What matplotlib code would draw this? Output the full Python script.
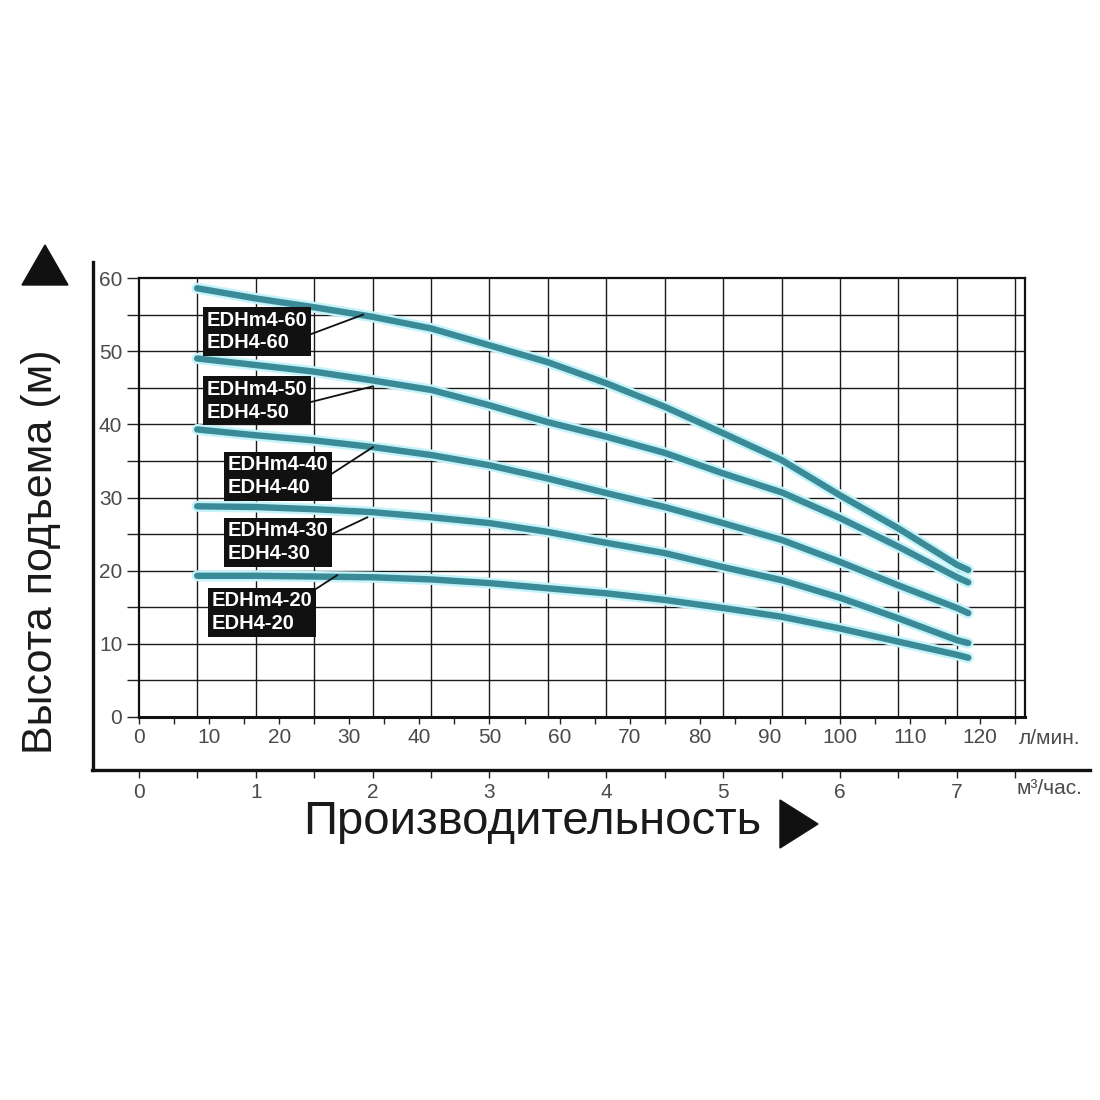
import numpy as np
import matplotlib
matplotlib.use('Agg')
from matplotlib import pyplot as plt
from matplotlib.lines import Line2D
from matplotlib.patches import Polygon

plt.rcParams['font.family'] = ['Liberation Sans', 'DejaVu Sans']

# flow, l/min
flow = [8.3, 16.7, 25, 33.3, 41.7, 50, 58.3, 66.7, 75, 83.3, 91.7, 100, 108.3, 116.7, 118.3]

# head, m
head_60 = [58.6, 57.2, 56.0, 54.7, 53.1, 50.8, 48.5, 45.6, 42.4, 38.8, 35.1, 30.3, 25.8, 20.8, 20.1]
head_50 = [49.0, 48.1, 47.2, 46.0, 44.7, 42.6, 40.3, 38.3, 36.1, 33.3, 30.7, 27.2, 23.3, 19.1, 18.4]
head_40 = [39.3, 38.5, 37.8, 36.9, 35.8, 34.4, 32.6, 30.6, 28.7, 26.5, 24.2, 21.2, 18.0, 14.9, 14.2]
head_30 = [28.8, 28.7, 28.4, 28.0, 27.3, 26.5, 25.3, 23.8, 22.4, 20.5, 18.7, 16.3, 13.5, 10.5, 10.1]
head_20 = [19.3, 19.3, 19.2, 19.1, 18.8, 18.3, 17.6, 16.9, 16.0, 14.9, 13.7, 12.1, 10.3, 8.5, 8.1]

labels = ['EDHm4-60\nEDH4-60', 'EDHm4-50\nEDH4-50', 'EDHm4-40\nEDH4-40',
          'EDHm4-30\nEDH4-30', 'EDHm4-20\nEDH4-20']
curves = [head_60, head_50, head_40, head_30, head_20]

# where the leader lines touch the curves, and where the boxes sit
leader_xy = [(32.0, 55.0), (33.4, 45.2), (33.4, 36.9), (32.6, 27.3), (28.3, 19.4)]
label_xy = [(9.6, 52.7), (9.6, 43.2), (12.6, 32.9), (12.6, 23.9), (10.3, 14.3)]
label_rel = [(1, 0.4), (1, 0.45), (1, 0.5), (1, 0.65), (1, 1.0)]

fig = plt.figure(figsize=(11, 11), dpi=100)
ax = fig.add_axes([139 / 1100, 1 - 717 / 1100, (1025 - 139) / 1100, (717 - 278) / 1100])

# grid
for x in np.arange(8.3333, 126, 8.3333):
    ax.axvline(x, color='#1a1a1a', lw=1.0, zorder=1)
for y in range(5, 60, 5):
    ax.axhline(y, color='#1a1a1a', lw=1.0, zorder=1)

# curves with a light glow
for h in curves:
    ax.plot(flow, h, color='#c4f3f9', lw=8, solid_capstyle='round', zorder=2)
    ax.plot(flow, h, color='#3b8a97', lw=4.6, solid_capstyle='round', zorder=3)

for lab, xy, txy, rp in zip(labels, leader_xy, label_xy, label_rel):
    ax.annotate(lab, xy=xy, xytext=txy, ha='left', va='center',
                color='white', fontsize=14.5, fontweight='bold',
                linespacing=1.25,
                bbox=dict(boxstyle='square,pad=0.18', fc='#111111', ec='none'),
                arrowprops=dict(arrowstyle='-', color='#111111', lw=1.3,
                                relpos=rp, shrinkA=0, shrinkB=0),
                zorder=5)

ax.set_xlim(0, 126.4)
ax.set_ylim(0, 60)
ax.set_xticks(range(0, 121, 10))
ax.set_xticks(range(0, 126, 5), minor=True)
ax.set_yticks(range(0, 61, 10))
ax.set_yticks(range(0, 61, 5), minor=True)
ax.tick_params(axis='both', which='both', direction='out', color='#222222', labelcolor='#4a4a4a',
               labelsize=15)
ax.tick_params(axis='y', which='both', length=9, width=1.0, pad=3)
ax.tick_params(axis='x', which='both', length=5, width=1.0, pad=3)
for s in ax.spines.values():
    s.set_color('#111111')
    s.set_linewidth(1.6)
ax.spines['bottom'].set_linewidth(2.2)

# second flow scale, m3/h
sec = ax.secondary_xaxis(-53 / 439, functions=(lambda x: x * 0.06, lambda x: x / 0.06))
sec.set_xticks(range(0, 8))
sec.set_xticks(np.arange(0, 7.6, 0.5), minor=True)
sec.tick_params(axis='x', which='both', direction='out', length=6, width=1.0,
                color='#222222', labelcolor='#4a4a4a', labelsize=15, pad=3)
sec.spines['bottom'].set_visible(False)

# L-shaped outer frame
fig.add_artist(Line2D([93 / 1100, 93 / 1100], [1 - 262 / 1100, 1 - 770 / 1100],
                      color='#111111', lw=2.4, transform=fig.transFigure))
fig.add_artist(Line2D([92 / 1100, 1090 / 1100], [1 - 770 / 1100, 1 - 770 / 1100],
                      color='#111111', lw=2.4, transform=fig.transFigure))

fig.text(1019 / 1100, 1 - 738 / 1100, 'л/мин.', fontsize=15, color='#4a4a4a',
         ha='left', va='center')
fig.text(1016 / 1100, 1 - 789 / 1100, 'м³/час.', fontsize=15, color='#4a4a4a',
         ha='left', va='center')

# axis titles with arrow heads
fig.text(41 / 1100, 1 - 552 / 1100, 'Высота подъема (м)', rotation=90, fontsize=31,
         color='#1a1a1a', ha='center', va='center')
fig.text(532 / 1100, 1 - 822 / 1100, 'Производительность', fontsize=34,
         color='#1a1a1a', ha='center', va='center')
fig.add_artist(Polygon([[22 / 1100, 1 - 285 / 1100], [68 / 1100, 1 - 285 / 1100],
                        [45 / 1100, 1 - 245 / 1100]], closed=True, color='#111111',
                       transform=fig.transFigure))
fig.add_artist(Polygon([[780 / 1100, 1 - 800 / 1100], [780 / 1100, 1 - 848 / 1100],
                        [818 / 1100, 1 - 824 / 1100]], closed=True, color='#111111',
                       transform=fig.transFigure))

fig.savefig('out.png', dpi=100, facecolor='white')
